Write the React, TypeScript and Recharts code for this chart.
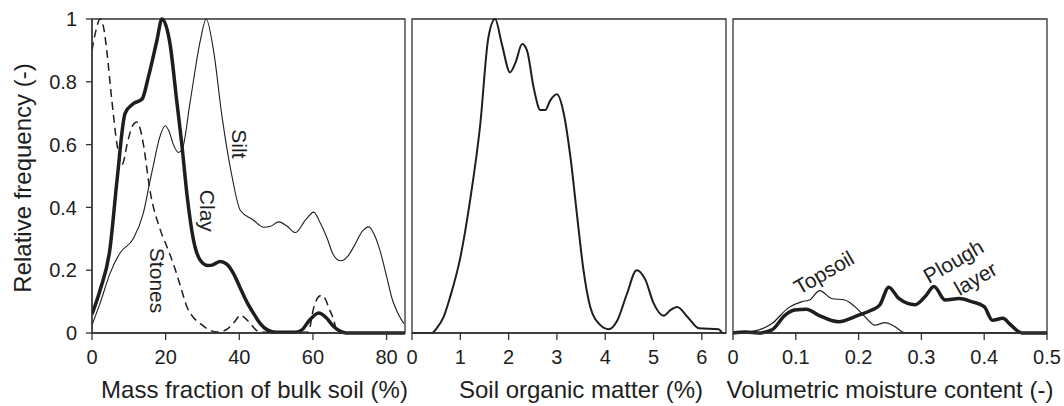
import React from 'react';
import { LineChart, Line, XAxis, YAxis, ReferenceArea, ReferenceDot } from 'recharts';

// ---------- data ----------
const clay: number[][] = [[0,0.06],[2.2,0.137],[4.9,0.27],[6.8,0.487],[9,0.7],[11.2,0.73],[13.6,0.745],[15.3,0.815],[17.6,0.93],[19,1.0],[21.2,0.92],[23,0.74],[24.4,0.6],[25.8,0.44],[27.5,0.3],[29.4,0.232],[31.5,0.215],[33,0.218],[34.8,0.228],[36.5,0.22],[38.4,0.19],[40,0.15],[42,0.1],[44,0.06],[45.7,0.03],[47.6,0.01],[50,0.002],[55,0.002],[57,0.01],[59,0.04],[61.6,0.064],[63.5,0.05],[65.7,0.02],[67.5,0.005],[69,0],[85,0]];
const silt: number[][] = [[0,0.025],[2.2,0.095],[4.9,0.19],[7.6,0.255],[11.2,0.3],[13.9,0.38],[15.8,0.487],[16.6,0.53],[18.3,0.62],[19.9,0.66],[21,0.64],[22.1,0.6],[23.5,0.575],[24.5,0.585],[26.7,0.74],[29.4,0.93],[31,1.0],[33,0.9],[35.3,0.69],[38,0.5],[40.3,0.39],[43.8,0.36],[46.6,0.337],[48.5,0.34],[50.7,0.354],[53,0.34],[55.2,0.32],[58,0.36],[60.2,0.385],[62,0.35],[63.9,0.3],[65.5,0.25],[67.5,0.23],[69.5,0.245],[71.1,0.275],[73.5,0.325],[75.1,0.338],[76.8,0.31],[78.4,0.255],[80,0.18],[81.6,0.105],[83.2,0.06],[84.7,0.03]];
const stones: number[][] = [[0,0.9],[1,0.96],[2.2,1.0],[3.2,0.97],[4,0.9],[5.4,0.74],[6.8,0.6],[8.1,0.535],[9.8,0.615],[11,0.66],[12.2,0.672],[13.2,0.645],[13.9,0.605],[15.8,0.45],[18.5,0.33],[20.5,0.27],[22.1,0.22],[24,0.15],[25.8,0.083],[27.5,0.05],[29.4,0.03],[31.5,0.012],[34,0.003],[36,0.008],[37.5,0.02],[39,0.04],[40.3,0.057],[41.8,0.045],[43,0.03],[44.5,0.01],[45.7,0.002],[58.7,0.002],[60.2,0.08],[61.5,0.115],[62.5,0.12],[63.5,0.105],[64.3,0.08],[65.7,0.04],[66.5,0.005],[68,0]];
const som: number[][] = [[0,0],[0.41,0],[0.51,0.015],[0.65,0.05],[0.79,0.115],[1.0,0.24],[1.2,0.42],[1.41,0.66],[1.58,0.94],[1.72,1.0],[1.86,0.92],[2.03,0.83],[2.14,0.86],[2.28,0.92],[2.38,0.9],[2.52,0.78],[2.66,0.71],[2.76,0.71],[2.86,0.74],[3.0,0.76],[3.14,0.7],[3.28,0.56],[3.42,0.37],[3.55,0.2],[3.69,0.083],[3.9,0.025],[4.07,0.012],[4.25,0.04],[4.45,0.125],[4.65,0.2],[4.83,0.17],[5.0,0.095],[5.21,0.055],[5.35,0.073],[5.49,0.083],[5.7,0.052],[5.94,0.015],[6.35,0.012],[6.43,0],[6.5,0]];
const topsoil: number[][] = [[0,0],[0.035,0.007],[0.062,0.03],[0.088,0.08],[0.11,0.1],[0.122,0.105],[0.138,0.135],[0.157,0.11],[0.178,0.105],[0.194,0.084],[0.21,0.052],[0.226,0.025],[0.242,0.033],[0.258,0.02],[0.274,0],[0.5,0]];
const plough: number[][] = [[0,0],[0.02,0.003],[0.04,0],[0.062,0.01],[0.083,0.057],[0.098,0.073],[0.117,0.076],[0.136,0.057],[0.168,0.036],[0.2,0.057],[0.221,0.073],[0.234,0.09],[0.248,0.146],[0.264,0.11],[0.29,0.09],[0.306,0.116],[0.32,0.148],[0.338,0.105],[0.36,0.11],[0.38,0.1],[0.4,0.084],[0.413,0.041],[0.43,0.047],[0.44,0.03],[0.455,0.004],[0.46,0],[0.5,0]];

const yTicks = [0, 0.2, 0.4, 0.6, 0.8, 1];
const massTicks = [0, 20, 40, 60, 80];
const somTicks = [0, 1, 2, 3, 4, 5, 6];
const moistTicks = [0, 0.1, 0.2, 0.3, 0.4, 0.5];

const massLabels = [
  { text: 'Silt', x: 40, y: 0.602, angle: 90 },
  { text: 'Clay', x: 31.3, y: 0.389, angle: 90 },
  { text: 'Stones', x: 17.8, y: 0.167, angle: 90 },
];
const moistLabels = [
  { text: 'Topsoil', x: 0.1447, y: 0.193, angle: -30 },
  { text: 'Plough', x: 0.351, y: 0.229, angle: -30 },
  { text: 'layer', x: 0.386, y: 0.174, angle: -30 },
];

const toPts = (a: number[][]) => a.map(([x, y]) => ({ x, y }));

const FONT = '"Liberation Sans", Arial, Helvetica, sans-serif';
const INK = '#1e1e1e';
const AX = '#333';
const tickStyle = { fontSize: 20, fill: INK, fontFamily: FONT };

const xTitle = (text: string, dx: number) => (props: any) => {
  const vb = props.viewBox || {};
  return (
    <text x={vb.x + vb.width / 2 + dx} y={vb.y + 65} textAnchor="middle" fontSize={24} fill={INK} fontFamily={FONT}>
      {text}
    </text>
  );
};

const curveLabel = (text: string, angle: number) => (props: any) => {
  const vb = props.viewBox || {};
  const cx = vb.x + (vb.width || 0) / 2;
  const cy = vb.y + (vb.height || 0) / 2;
  return (
    <text x={cx} y={cy} textAnchor="middle" dominantBaseline="central" fontSize={21} fill={INK} fontFamily={FONT}
      transform={`rotate(${angle} ${cx} ${cy})`}>
      {text}
    </text>
  );
};

const yTitle = (props: any) => {
  const vb = props.viewBox || {};
  const cx = 22;
  const cy = vb.y + vb.height / 2 + 2;
  return (
    <text x={cx} y={cy} textAnchor="middle" dominantBaseline="central" fontSize={24} fill={INK} fontFamily={FONT}
      transform={`rotate(-90 ${cx} ${cy})`}>
      Relative frequency (-)
    </text>
  );
};

const fmtY = (v: number) => (v === 0 ? '0' : v === 1 ? '1' : String(v));

export default function App() {
  return (
    <div style={{ position: 'absolute', left: 0, top: 0, width: 1064, height: 406, background: '#fff', overflow: 'hidden' }}>
      {/* Panel 1 */}
      <div style={{ position: 'absolute', left: 0, top: 0 }}>
        <LineChart width={420} height={406} margin={{ top: 19, right: 15, left: 0, bottom: 0 }}>
          <XAxis type="number" dataKey="x" domain={[0, 85]} ticks={massTicks} height={73}
            tickSize={7} tickMargin={10} tick={tickStyle} stroke={AX} strokeWidth={1.3}
            allowDataOverflow label={xTitle('Mass fraction of bulk soil (%)', 6)} />
          <YAxis type="number" domain={[0, 1]} ticks={yTicks} width={92} tickSize={6} tickMargin={9}
            tick={tickStyle} stroke={AX} strokeWidth={1.3} tickFormatter={fmtY} label={yTitle} />
          <ReferenceArea x1={0} x2={85} y1={0} y2={1} fill="none" stroke={AX} strokeWidth={1.3} />
          <Line data={toPts(silt)} dataKey="y" type="monotone" stroke={INK} strokeWidth={1.1} dot={false} isAnimationActive={false} />
          <Line data={toPts(stones)} dataKey="y" type="monotone" stroke={INK} strokeWidth={1.5} strokeDasharray="8 5" dot={false} isAnimationActive={false} />
          <Line data={toPts(clay)} dataKey="y" type="monotone" stroke={INK} strokeWidth={3.5} dot={false} isAnimationActive={false} />
          {massLabels.map((l) => (
            <ReferenceDot key={l.text} x={l.x} y={l.y} r={0} fill="none" stroke="none" label={curveLabel(l.text, l.angle)} />
          ))}
        </LineChart>
      </div>
      {/* Panel 2 */}
      <div style={{ position: 'absolute', left: 400, top: 0 }}>
        <LineChart width={340} height={406} margin={{ top: 19, right: 14, left: 12, bottom: 0 }}>
          <XAxis type="number" dataKey="x" domain={[0, 6.5]} ticks={somTicks} height={73}
            tickSize={7} tickMargin={10} tick={tickStyle} stroke={AX} strokeWidth={1.3}
            allowDataOverflow label={xTitle('Soil organic matter (%)', 12)} />
          <YAxis type="number" domain={[0, 1]} hide />
          <ReferenceArea x1={0} x2={6.5} y1={0} y2={1} fill="none" stroke={AX} strokeWidth={1.3} />
          <Line data={toPts(som)} dataKey="y" type="monotone" stroke={INK} strokeWidth={2} dot={false} isAnimationActive={false} />
        </LineChart>
      </div>
      {/* Panel 3 */}
      <div style={{ position: 'absolute', left: 720, top: 0 }}>
        <LineChart width={344} height={406} margin={{ top: 19, right: 17, left: 13, bottom: 0 }}>
          <XAxis type="number" dataKey="x" domain={[0, 0.5]} ticks={moistTicks} height={73}
            tickSize={7} tickMargin={10} tick={tickStyle} stroke={AX} strokeWidth={1.3}
            allowDataOverflow label={xTitle('Volumetric moisture content (-)', 0)} />
          <YAxis type="number" domain={[0, 1]} hide />
          <ReferenceArea x1={0} x2={0.5} y1={0} y2={1} fill="none" stroke={AX} strokeWidth={1.3} />
          <Line data={toPts(topsoil)} dataKey="y" type="monotone" stroke={INK} strokeWidth={1.2} dot={false} isAnimationActive={false} />
          <Line data={toPts(plough)} dataKey="y" type="monotone" stroke={INK} strokeWidth={3.5} dot={false} isAnimationActive={false} />
          {moistLabels.map((l) => (
            <ReferenceDot key={l.text} x={l.x} y={l.y} r={0} fill="none" stroke="none" label={curveLabel(l.text, l.angle)} />
          ))}
        </LineChart>
      </div>
    </div>
  );
}
